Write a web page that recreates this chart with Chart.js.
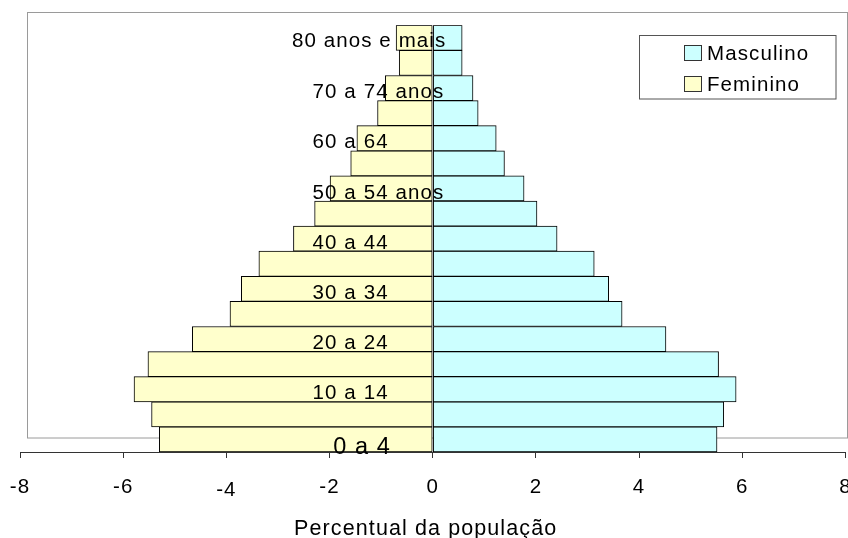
<!DOCTYPE html>
<html lang="pt">
<head>
<meta charset="utf-8">
<title>Pirâmide etária</title>
<script src="https://cdn.jsdelivr.net/npm/chart.js@4.4.1/dist/chart.umd.min.js"></script>
<style>
    html, body { margin: 0; padding: 0; background: #fff; }
    #wrap { width: 848px; height: 538px; }
</style>
</head>
<body>
<div id="wrap"><canvas id="pyramid" width="848" height="538"></canvas></div>
<script>
// ── Data ──────────────────────────────────────────────────────────
const ageGroups = [
    '0 a 4', '5 a 9', '10 a 14', '15 a 19', '20 a 24', '25 a 29',
    '30 a 34', '35 a 39', '40 a 44', '45 a 49', '50 a 54 anos', '55 a 59',
    '60 a 64', '65 a 69', '70 a 74 anos', '75 a 79', '80 anos e mais'
];
// percent of population
const masculino = [5.51, 5.64, 5.88, 5.54, 4.52, 3.67, 3.41, 3.13, 2.41, 2.02, 1.77, 1.39, 1.23, 0.88, 0.78, 0.57, 0.57];
const feminino  = [5.30, 5.45, 5.79, 5.52, 4.66, 3.93, 3.71, 3.37, 2.70, 2.29, 1.99, 1.59, 1.47, 1.07, 0.92, 0.65, 0.71];
const xTicks    = [-8, -6, -4, -2, 0, 2, 4, 6, 8];

const FONT = 'Arial, "Liberation Sans", sans-serif';
Chart.defaults.font.family = FONT;
Chart.defaults.color = '#000';

// every text in the original is slightly spaced out
const spacingPlugin = {
    id: 'spacing',
    beforeDraw(chart) { chart.ctx.letterSpacing = '1.1px'; }
};

// grey plot-area frame (drawn under the bars)
const framePlugin = {
    id: 'frame',
    beforeDatasetsDraw(chart) {
        const ctx = chart.ctx;
        ctx.save();
        ctx.strokeStyle = '#9a9a9a';
        ctx.lineWidth = 1;
        ctx.strokeRect(27.5, 12.5, 820, 425.5);
        ctx.restore();
    }
};

// age labels sit in the middle of the pyramid, every other group
const ageLabelsPlugin = {
    id: 'ageLabels',
    afterDatasetsDraw(chart) {
        const { ctx, scales: { x, y } } = chart;
        ctx.save();
        ctx.fillStyle = '#000';
        ctx.textAlign = 'left';
        ctx.textBaseline = 'middle';
        ageGroups.forEach((txt, i) => {
            if (i % 2) return;
            let left = -2.33, size = 20.5, dy = 4.5;
            if (i === 0) { left = -1.93; size = 23.5; dy = 8.5; }
            if (i === ageGroups.length - 1) { left = -2.73; dy = 3; }
            ctx.font = `${size}px ${FONT}`;
            ctx.fillText(txt, x.getPixelForValue(left), y.getPixelForValue(i) + dy);
        });
        ctx.restore();
    }
};

// boxed legend, top right
const boxLegendPlugin = {
    id: 'boxLegend',
    afterDraw(chart) {
        const ctx = chart.ctx;
        ctx.save();
        ctx.strokeStyle = '#555';
        ctx.lineWidth = 1;
        ctx.strokeRect(639.5, 35.5, 196.5, 63.5);
        ctx.font = `20.5px ${FONT}`;
        ctx.textBaseline = 'alphabetic';
        chart.data.datasets.forEach((ds, i) => {
            const top = 45 + i * 31;
            ctx.fillStyle = ds.backgroundColor;
            ctx.fillRect(684.5, top + 0.5, 17, 15);
            ctx.strokeStyle = '#333';
            ctx.strokeRect(684.5, top + 0.5, 17, 15);
            ctx.fillStyle = '#000';
            ctx.fillText(ds.label, 707, top + 14.5);
        });
        ctx.restore();
    }
};

new Chart(document.getElementById('pyramid'), {
    type: 'bar',
    data: {
        labels: ageGroups,
        datasets: [
            {
                label: 'Masculino',
                data: masculino,
                backgroundColor: '#CCFFFF',
                borderColor: '#000',
                borderWidth: 1,
                borderSkipped: false,
                barPercentage: 1,
                categoryPercentage: 1
            },
            {
                label: 'Feminino',
                data: feminino.map(v => -v),
                backgroundColor: '#FFFFCC',
                borderColor: '#000',
                borderWidth: 1,
                borderSkipped: false,
                barPercentage: 1,
                categoryPercentage: 1
            }
        ]
    },
    options: {
        indexAxis: 'y',
        responsive: false,
        animation: false,
        layout: { padding: { left: 20, right: 2.5, top: 25.3, bottom: 0 } },
        scales: {
            x: {
                type: 'linear',
                stacked: true,
                min: xTicks[0],
                max: xTicks[xTicks.length - 1],
                afterBuildTicks: s => { s.ticks = xTicks.map(v => ({ value: v })); },
                afterFit: s => {
                    s.paddingLeft = 0;
                    s.paddingRight = 0;
                    s.height = 86;   // axis line at y = 452
                },
                ticks: {
                    padding: 17,
                    color: '#000',
                    maxRotation: 0,
                    // the -4 label sits a little lower in the original
                    font: c => ({
                        size: 20.5,
                        lineHeight: (c.tick && c.tick.value === -4) ? '30.6px' : '24px'
                    })
                },
                grid: {
                    drawOnChartArea: false,
                    drawTicks: true,
                    tickLength: 6,
                    color: '#333'
                },
                border: { display: true, color: '#333', width: 1 },
                title: {
                    display: true,
                    // trailing spaces nudge the centred title a bit left, as in the original
                    text: 'Percentual da população  ',
                    color: '#000',
                    font: { size: 21.5, lineHeight: '18px' },
                    padding: { top: 0, bottom: 0 }
                }
            },
            y: {
                type: 'category',
                stacked: true,
                reverse: true,
                display: false
            }
        },
        plugins: {
            legend: { display: false },
            tooltip: { enabled: false }
        }
    },
    plugins: [spacingPlugin, framePlugin, ageLabelsPlugin, boxLegendPlugin]
});
</script>
</body>
</html>
